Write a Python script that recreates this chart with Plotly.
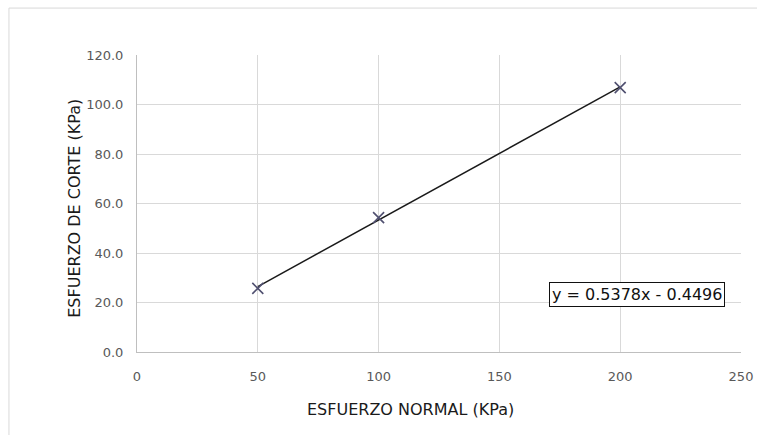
import plotly.graph_objects as go

# Data
normal_stress = [50, 100, 200]          # ESFUERZO NORMAL (KPa)
shear_stress = [25.7, 54.3, 106.8]      # ESFUERZO DE CORTE (KPa)
slope = 0.5378
intercept = -0.4496
equation_text = "y = 0.5378x - 0.4496"
x_title = "ESFUERZO NORMAL (KPa)"
y_title = "ESFUERZO DE CORTE (KPa)"

x_ticks = [0, 50, 100, 150, 200, 250]
y_ticks = [0, 20, 40, 60, 80, 100, 120]

trend_x = [min(normal_stress), max(normal_stress)]
trend_y = [slope * v + intercept for v in trend_x]

fig = go.Figure()
fig.add_trace(go.Scatter(
    x=trend_x, y=trend_y, mode="lines",
    line=dict(color="#1a1a1a", width=1.5),
    showlegend=False, hoverinfo="skip"))
fig.add_trace(go.Scatter(
    x=normal_stress, y=shear_stress, mode="markers",
    marker=dict(symbol="x-thin-open", size=11, color="#505070",
                line=dict(color="#505070", width=1.6)),
    showlegend=False))

fig.add_annotation(
    x=207, y=23.2, xref="x", yref="y", text=equation_text,
    showarrow=False, font=dict(family="DejaVu Sans", size=16, color="#111111"),
    bgcolor="white", bordercolor="#111111", borderwidth=1, borderpad=2)

# axis titles
fig.add_annotation(
    x=0.452, y=-0.192, xref="paper", yref="paper", text=x_title,
    xanchor="center", yanchor="middle",
    showarrow=False, font=dict(family="DejaVu Sans", size=16, color="#1a1a1a"))
fig.add_annotation(
    x=-0.103, y=0.485, xref="paper", yref="paper", text=y_title, textangle=-90,
    xanchor="center", yanchor="middle",
    showarrow=False, font=dict(family="DejaVu Sans", size=16, color="#1a1a1a"))

# outer chart frame: only its top and left edges fall inside the view
fig.add_shape(type="line", xref="paper", yref="paper",
              x0=-0.212, x1=1.05, y0=1.158, y1=1.158,
              line=dict(color="#d9d9d9", width=1), layer="below")
fig.add_shape(type="line", xref="paper", yref="paper",
              x0=-0.212, x1=-0.212, y0=-0.3, y1=1.158,
              line=dict(color="#d9d9d9", width=1), layer="below")

fig.update_layout(
    width=757, height=435,
    margin=dict(l=137, r=16, t=55, b=83),
    paper_bgcolor="white", plot_bgcolor="white",
    font=dict(family="DejaVu Sans", color="#595959"),
)
fig.update_xaxes(
    range=[0, 250], tickvals=x_ticks, ticktext=[str(v) for v in x_ticks],
    showgrid=True, gridcolor="#d9d9d9", gridwidth=1,
    showline=True, linecolor="#bfbfbf", linewidth=1, zeroline=False,
    ticks="", ticklabelstandoff=12, automargin=False,
    tickfont=dict(family="DejaVu Sans", size=13, color="#595959"),
    fixedrange=True)
fig.update_yaxes(
    range=[0, 120], tickvals=y_ticks, ticktext=[f"{v:.1f}" for v in y_ticks],
    showgrid=True, gridcolor="#d9d9d9", gridwidth=1,
    showline=True, linecolor="#bfbfbf", linewidth=1, zeroline=False,
    ticks="", ticklabelstandoff=10, automargin=False,
    tickfont=dict(family="DejaVu Sans", size=13, color="#595959"),
    fixedrange=True)

fig.write_html(
    "out.html", config={"responsive": False, "displayModeBar": False},
    post_script="document.body.style.margin='0';document.body.style.overflow='hidden';")
